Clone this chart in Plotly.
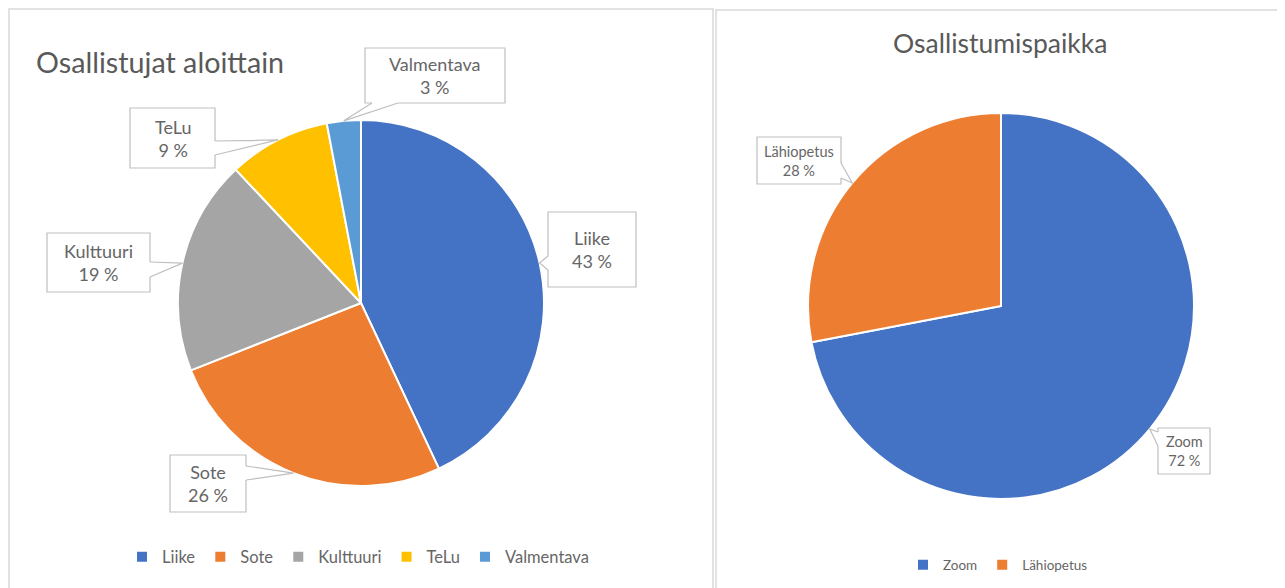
import math
import plotly.graph_objects as go

W, H = 1285, 588

# ---- data ----
left_title = "Osallistujat aloittain"
left_labels = ["Liike", "Sote", "Kulttuuri", "TeLu", "Valmentava"]
left_values = [43, 26, 19, 9, 3]
left_colors = ["#4472C4", "#ED7D31", "#A5A5A5", "#FFC000", "#5B9BD5"]

right_title = "Osallistumispaikka"
right_labels = ["Zoom", "Lähiopetus"]
right_values = [72, 28]
right_colors = ["#4472C4", "#ED7D31"]

TXT = "#595959"
LBL = "#666666"
BORDER = "#BFBFBF"
FONT = "Lato"
OFF = 8  # page body margin


def px(x):
    return (x - OFF) / W


def py(y):
    return 1 - (y - OFF) / H


# pie geometry (pixels): center and radius
L_C, L_R = (361, 303), 183
R_C, R_R = (1001, 306), 193

fig = go.Figure()
fig.add_trace(go.Pie(
    labels=left_labels, values=left_values, sort=False, direction="clockwise",
    marker=dict(colors=left_colors, line=dict(color="white", width=2)),
    textinfo="none", hoverinfo="label+percent",
    domain=dict(x=[px(L_C[0] - L_R), px(L_C[0] + L_R)], y=[py(L_C[1] + L_R), py(L_C[1] - L_R)]),
    legend="legend",
))
fig.add_trace(go.Pie(
    labels=right_labels, values=right_values, sort=False, direction="clockwise",
    marker=dict(colors=right_colors, line=dict(color="white", width=2)),
    textinfo="none", hoverinfo="label+percent",
    domain=dict(x=[px(R_C[0] - R_R), px(R_C[0] + R_R)], y=[py(R_C[1] + R_R), py(R_C[1] - R_R)]),
    legend="legend2",
))

shapes = []
annotations = []

# panel borders
shapes.append(dict(type="rect", xref="paper", yref="paper", x0=px(9), x1=px(713), y0=py(640), y1=py(9),
                   line=dict(color="#D9D9D9", width=1.5), fillcolor="rgba(0,0,0,0)", layer="below"))
shapes.append(dict(type="rect", xref="paper", yref="paper", x0=px(716), x1=px(1281), y0=py(640), y1=py(10),
                   line=dict(color="#D9D9D9", width=1.5), fillcolor="rgba(0,0,0,0)", layer="below"))


def tip_point(values, idx, center, r):
    tot = sum(values)
    cum = sum(values[:idx]) + values[idx] / 2
    ang = cum / tot * 2 * math.pi
    return center[0] + r * math.sin(ang), center[1] - r * math.cos(ang)


def callout(label, values, idx, center, r, box, base, fsize):
    x0, y0, x1, y1 = box
    tx, ty = tip_point(values, idx, center, r)
    shapes.append(dict(type="rect", xref="paper", yref="paper", x0=px(x0), x1=px(x1), y0=py(y1), y1=py(y0),
                       line=dict(color=BORDER, width=1.2), fillcolor="white", layer="above"))
    (ax, ay), (bx, by) = base
    cx, cy = (x0 + x1) / 2, (y0 + y1) / 2

    def inward(x, y):
        if abs(x - x0) < 0.5 or abs(x - x1) < 0.5:
            return x + (2.5 if cx > x else -2.5), y
        return x, y + (2.5 if cy > y else -2.5)
    ai, bi = inward(ax, ay), inward(bx, by)
    shapes.append(dict(type="path", xref="paper", yref="paper",
                       path=f"M {px(ai[0])} {py(ai[1])} L {px(ax)} {py(ay)} L {px(tx)} {py(ty)} L {px(bx)} {py(by)} L {px(bi[0])} {py(bi[1])} Z",
                       line=dict(width=0), fillcolor="white", layer="above"))
    shapes.append(dict(type="path", xref="paper", yref="paper",
                       path=f"M {px(ax)} {py(ay)} L {px(tx)} {py(ty)} L {px(bx)} {py(by)}",
                       line=dict(color=BORDER, width=1.2), fillcolor="rgba(0,0,0,0)", layer="above"))
    pct = round(values[idx] / sum(values) * 100)
    annotations.append(dict(xref="paper", yref="paper", x=px(cx), y=py(cy), xanchor="center", yanchor="middle",
                            showarrow=False, text=f"{label}<br>{pct} %", align="center",
                            font=dict(family=FONT, size=fsize, color=LBL)))


# left callouts
callout("Liike", left_values, 0, L_C, L_R, (548, 212, 636, 287), ((548, 256), (548, 270)), 18)
callout("Sote", left_values, 1, L_C, L_R, (170, 455, 246, 512), ((246, 466), (246, 480)), 18)
callout("Kulttuuri", left_values, 2, L_C, L_R, (47, 233, 150, 292), ((150, 262), (150, 277)), 18)
callout("TeLu", left_values, 3, L_C, L_R, (130, 108, 215, 168), ((215, 141), (215, 155)), 18)
callout("Valmentava", left_values, 4, L_C, L_R, (365, 48, 505, 103), ((372, 103), (398, 103)), 18)

# right callouts
callout("Lähiopetus", right_values, 1, R_C, R_R, (757, 137, 841, 184), ((841, 163), (841, 178)), 14.5)
callout("Zoom", right_values, 0, R_C, R_R, (1158, 428, 1210, 474), ((1158, 432), (1158, 446)), 14.5)

# titles
annotations.append(dict(xref="paper", yref="paper", x=px(34), y=py(62), xanchor="left", yanchor="middle",
                        showarrow=False, text=left_title, font=dict(family=FONT, size=28.7, color=TXT)))
annotations.append(dict(xref="paper", yref="paper", x=px(1000), y=py(43), xanchor="center", yanchor="middle",
                        showarrow=False, text=right_title, font=dict(family=FONT, size=26.5, color=TXT)))

fig.update_layout(
    width=W, height=H,
    margin=dict(l=0, r=0, t=0, b=0),
    paper_bgcolor="white", plot_bgcolor="white",
    shapes=shapes, annotations=annotations,
    legend=dict(orientation="h", x=px(358), y=py(557), xanchor="center", yanchor="middle",
                font=dict(family=FONT, size=16.5, color=LBL), itemwidth=30, bgcolor="rgba(0,0,0,0)"),
    legend2=dict(orientation="h", x=px(998), y=py(565), xanchor="center", yanchor="middle",
                 font=dict(family=FONT, size=13.5, color=LBL), itemwidth=30, bgcolor="rgba(0,0,0,0)"),
)

fig.write_html("out.html")
